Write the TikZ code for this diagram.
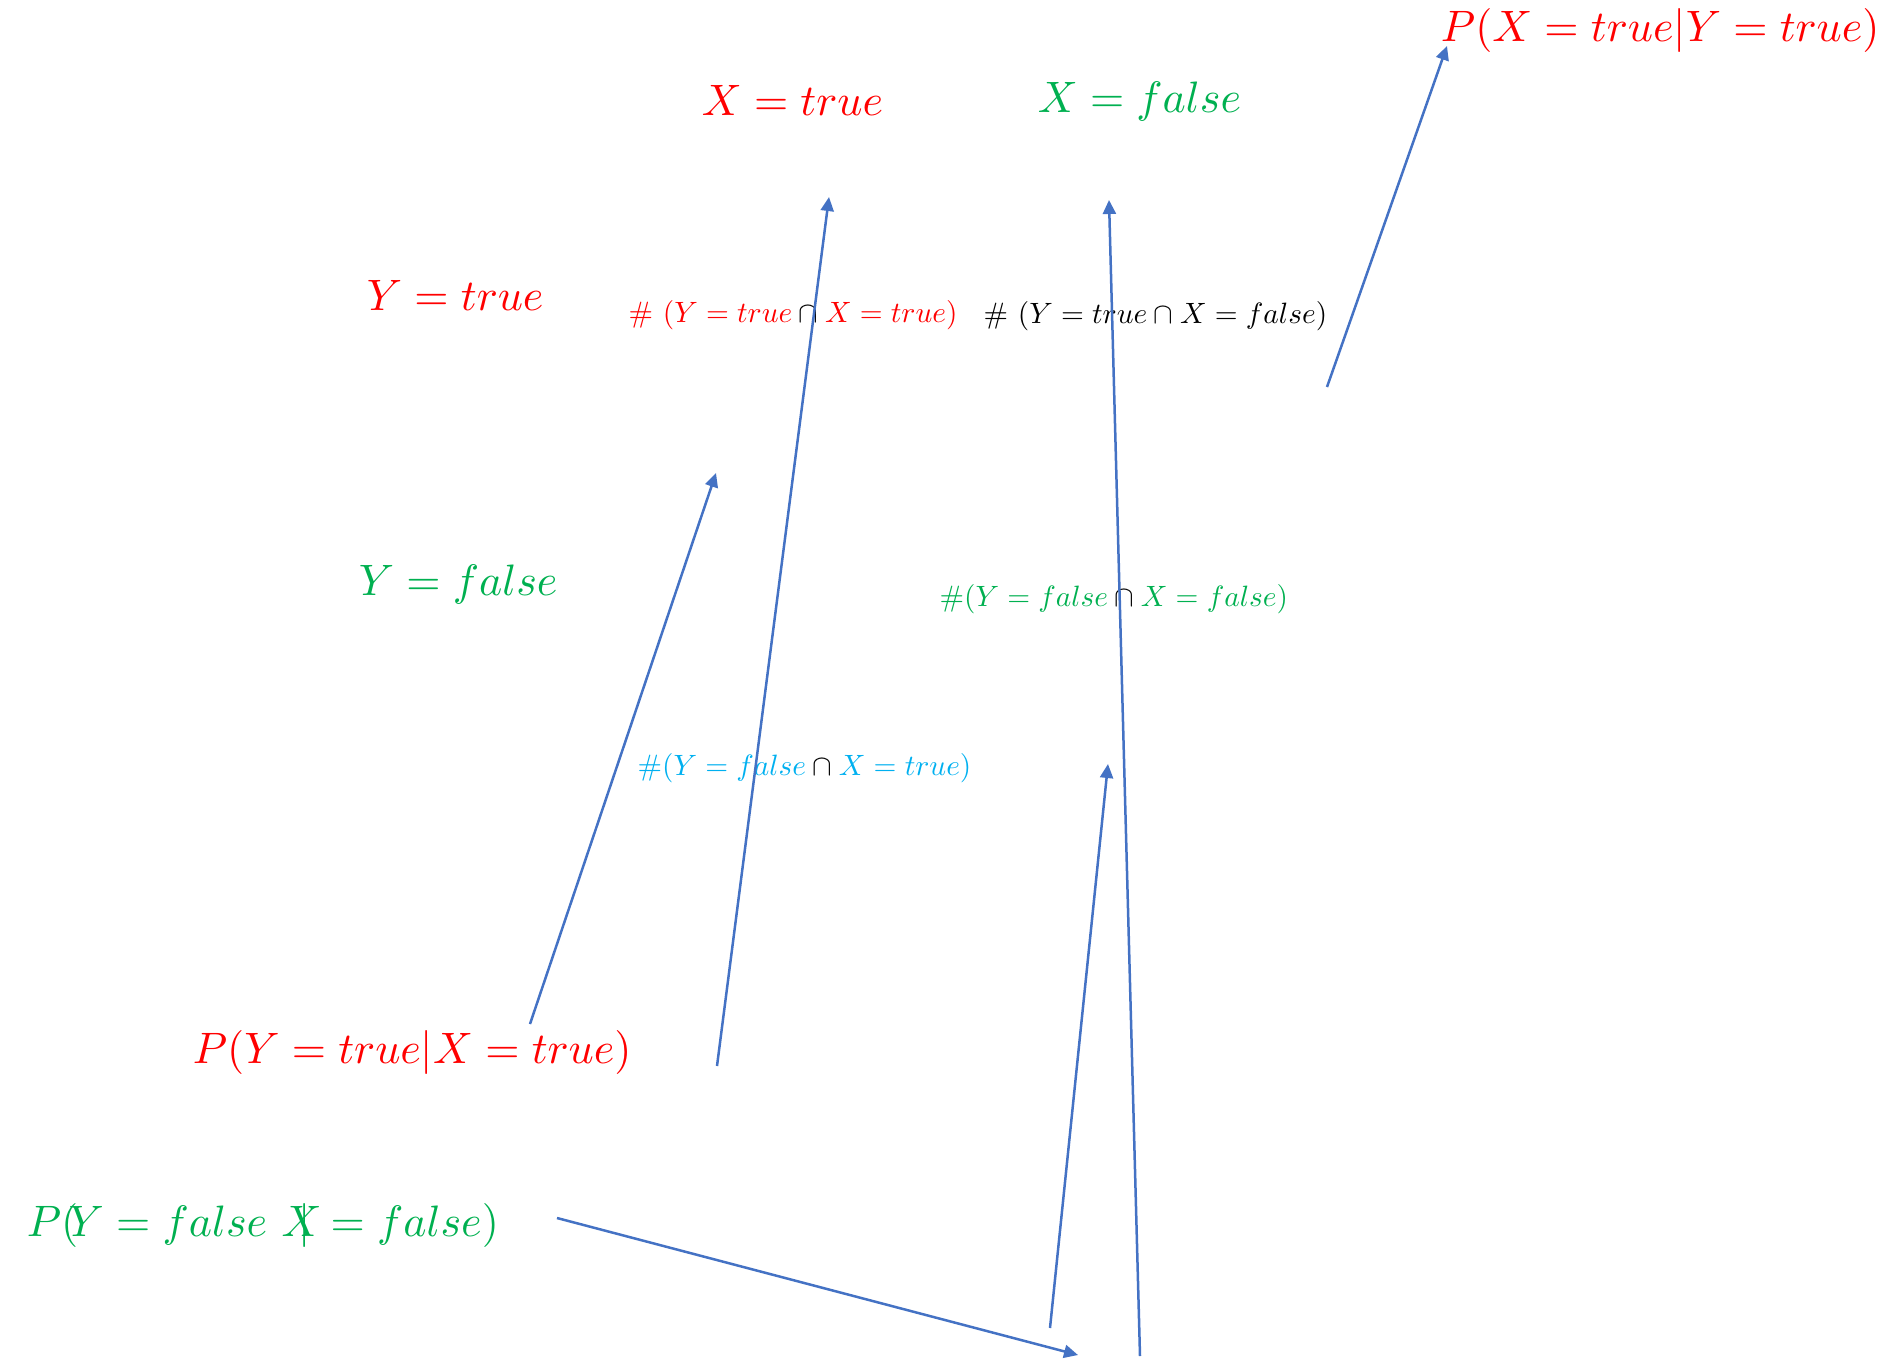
\documentclass[tikz,border=0pt]{standalone}
\usetikzlibrary{arrows.meta}
\definecolor{xred}{RGB}{255,0,0}
\definecolor{xgreen}{RGB}{0,176,80}
\definecolor{xcyan}{RGB}{0,176,240}
\definecolor{arrowblue}{RGB}{68,114,196}
\newcommand{\bcap}{\mathbin{\color{black}\cap}}
\begin{document}
\begin{tikzpicture}[x=0.5pt,y=-0.5pt,
  big/.style={anchor=base west,inner sep=0pt,scale=2.2},
  small/.style={anchor=base west,inner sep=0pt,scale=1.47},
  link/.style={draw=arrowblue,line width=1.25pt,-{Triangle[length=7pt,width=6.5pt]}}]
\useasboundingbox (0,0) rectangle (1886,1361);
% labels
\node[big,text=xred]   (xt)  at (701,115)  {$X = true$};
\node[big,text=xgreen] (xf)  at (1037,112) {$X = false$};
\node[big,text=xred]   (pxy) at (1440,41)  {$P(X = true|Y = true)$};
\node[big,text=xred]   (yt)  at (366,310)  {$Y = true$};
\node[big,text=xgreen] (yf)  at (358,595)  {$Y = false$};
\node[small,text=xred] (ctt) at (628,322)  {$\#\ (Y = true \bcap X = true)$};
\node[small,text=black](ctf) at (983,323)  {$\#\ (Y = true \cap X = false)$};
\node[small,text=xgreen](cff) at (939,606) {$\#(Y = false \bcap X = false)$};
\node[small,text=xcyan](cft) at (637,775)  {$\#(Y = false \bcap X = true)$};
\node[big,text=xred]   (pyx) at (192,1063) {$P(Y = true|X = true)$};
\node[big,text=xgreen] (pff) at (26,1236)  {$P(\mkern-4mu Y = false\ \rlap{$X$}\mkern7mu|\mkern3mu = false)$};
% arrow end points
\coordinate (a1s) at (1327,387);  \coordinate (a1e) at (1447,46);
\coordinate (a2s) at (530,1024);  \coordinate (a2e) at (716,473);
\coordinate (a3s) at (717,1066);  \coordinate (a3e) at (829,197);
\coordinate (a4s) at (1140,1356); \coordinate (a4e) at (1109,200);
\coordinate (a5s) at (1050,1328); \coordinate (a5e) at (1108,764);
\coordinate (a6s) at (557,1218);  \coordinate (a6e) at (1078,1355);
\draw[link] (a1s) -- (a1e);
\draw[link] (a2s) -- (a2e);
\draw[link] (a3s) -- (a3e);
\draw[link] (a4s) -- (a4e);
\draw[link] (a5s) -- (a5e);
\draw[link] (a6s) -- (a6e);
\end{tikzpicture}
\end{document}
